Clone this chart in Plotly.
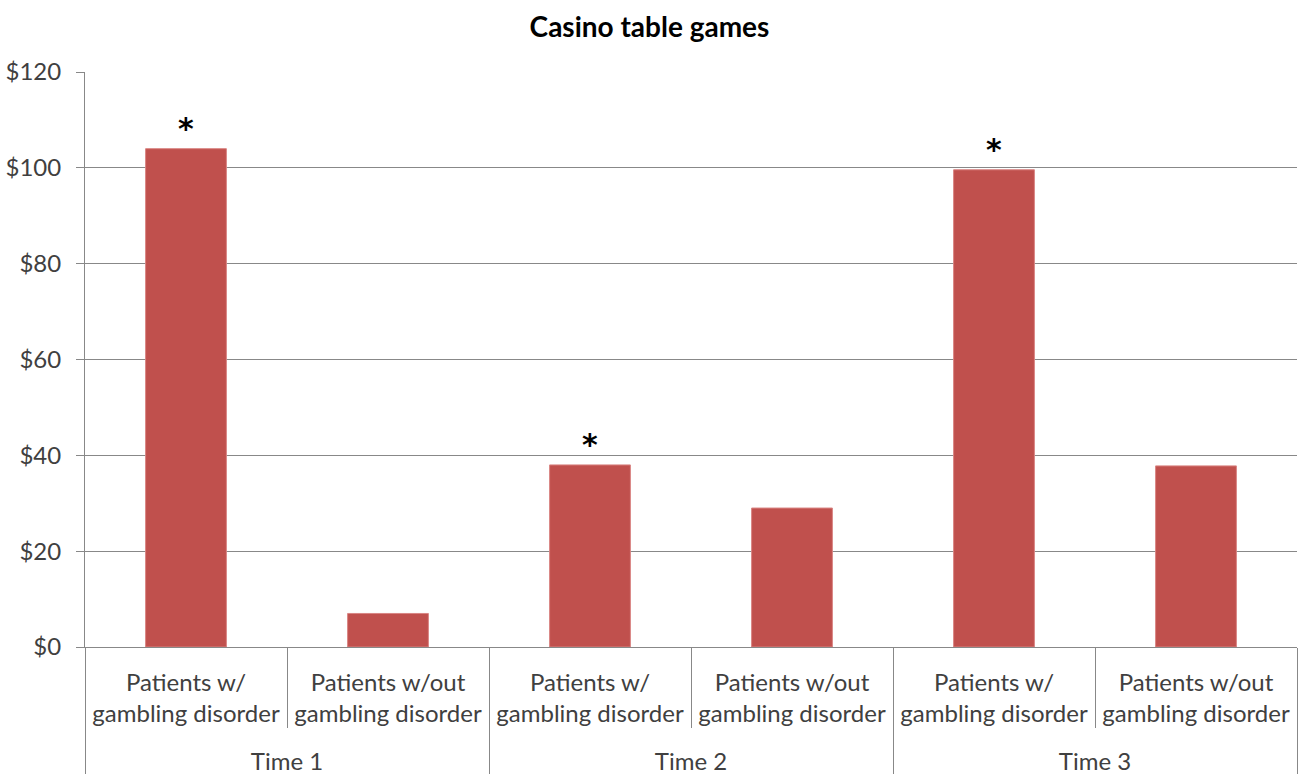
import plotly.graph_objects as go

times = ["Time 1", "Time 1", "Time 2", "Time 2", "Time 3", "Time 3"]
groups = ["Patients w/<br>gambling disorder<br>\u00a0", "Patients w/out<br>gambling disorder<br>\u00a0"] * 3
values = [104, 7, 38, 29, 99.6, 37.8]
significant = ["<b>*</b>", "", "<b>*</b>", "", "<b>*</b>", ""]

FONT = "Lato"
GRID = "#888888"

fig = go.Figure(go.Bar(
    x=[times, groups],
    y=values,
    marker=dict(color="#C0504D", line=dict(color="#D98583", width=1)),
    text=significant,
    textposition="outside",
    textfont=dict(family="DejaVu Sans", size=30, color="#000000"),
    cliponaxis=False,
))

fig.update_layout(
    width=1299, height=774,
    margin=dict(l=85, r=2, t=72, b=127),
    paper_bgcolor="white", plot_bgcolor="white",
    title=dict(text="<b>Casino table games</b>", x=0.5, xanchor="center", y=0.965, yanchor="middle",
               font=dict(family=FONT, size=28, color="#000000")),
    bargap=0.6,
    showlegend=False,
    font=dict(family=FONT, size=24, color="#404040"),
)
fig.update_yaxes(
    range=[0, 120], dtick=20, tickprefix="$", showgrid=True, gridcolor=GRID, gridwidth=1,
    showline=True, linecolor=GRID, linewidth=1, zeroline=False,
    ticks="outside", ticklen=8, tickcolor=GRID, ticklabelstandoff=10,
    automargin=False,
    tickfont=dict(family=FONT, size=24, color="#404040"),
)
fig.update_xaxes(
    type="multicategory", showline=True, linecolor=GRID, linewidth=1,
    tickson="boundaries", ticks="outside", ticklen=80, tickcolor=GRID,
    showdividers=True, dividercolor=GRID, dividerwidth=1,
    ticklabelstandoff=14, automargin=False,
    tickfont=dict(family=FONT, size=24, color="#404040"),
)

fig.write_html("out.html", config={"displayModeBar": False},
               post_script="document.body.style.margin='0';document.body.style.overflow='hidden';")
